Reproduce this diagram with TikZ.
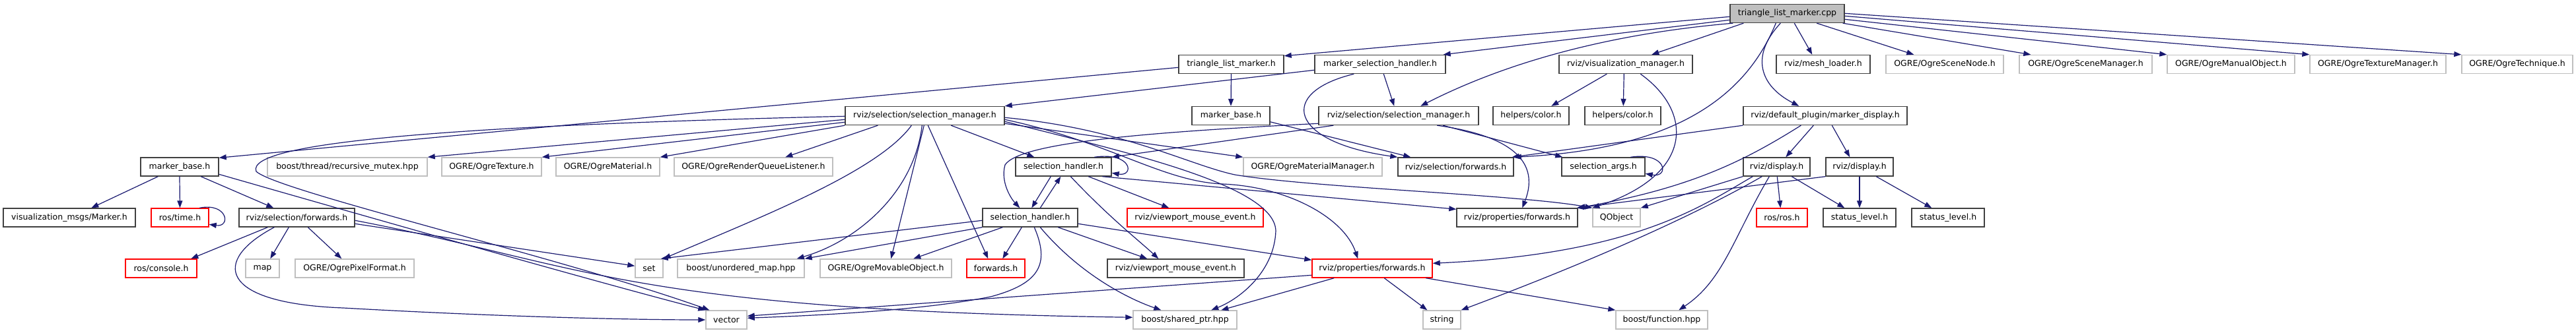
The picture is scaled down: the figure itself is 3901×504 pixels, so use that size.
\documentclass[tikz,border=0pt]{standalone}
\usepackage{fontspec}
\usetikzlibrary{arrows.meta}
\newfontfamily\dvs{DejaVu Sans}
\definecolor{edgecol}{HTML}{191970}
\definecolor{bordblack}{HTML}{404040}
\definecolor{bordgray}{HTML}{BFBFBF}
\definecolor{bordred}{HTML}{FF0000}
\definecolor{rootfill}{HTML}{BFBFBF}
\tikzset{
  nbox/.style={rectangle, minimum height=28pt, inner sep=0pt, line width=1.4pt,
    font={\dvs\fontsize{12.5}{14}\selectfont}, text=black},
  blk/.style={nbox, draw=bordblack},
  gry/.style={nbox, draw=bordgray},
  rbox/.style={nbox, draw=bordred},
  rootbox/.style={nbox, draw=bordblack, fill=rootfill},
  conn/.style={draw=edgecol, line width=1.2pt, -{Triangle[length=11pt,width=8pt]}}
}
\begin{document}
\begin{tikzpicture}[x=1pt,y=-1pt]
\useasboundingbox (0,0) rectangle (3901,504);
\fill[white] (0,0) rectangle (3901,504);
% row 0
\node[rootbox, minimum width=173pt] (cpp) at (2706.5,20.5) {triangle\_list\_marker.cpp};
% row 1
\node[blk, minimum width=159pt] (tlmh) at (1864.5,97.5) {triangle\_list\_marker.h};
\node[blk, minimum width=198pt] (msh) at (2090,97.5) {marker\_selection\_handler.h};
\node[blk, minimum width=202pt] (vm) at (2462,97.5) {rviz/visualization\_manager.h};
\node[blk, minimum width=142pt] (ml) at (2761,97.5) {rviz/mesh\_loader.h};
\node[gry, minimum width=178pt] (osn) at (2945,97.5) {OGRE/OgreSceneNode.h};
\node[gry, minimum width=201pt] (osm) at (3158.5,97.5) {OGRE/OgreSceneManager.h};
\node[gry, minimum width=193pt] (omo) at (3378.5,97.5) {OGRE/OgreManualObject.h};
\node[gry, minimum width=206pt] (otm) at (3601,97.5) {OGRE/OgreTextureManager.h};
\node[gry, minimum width=168pt] (ote) at (3812,97.5) {OGRE/OgreTechnique.h};
% row 2
\node[blk, minimum width=241pt] (smL) at (1400.5,175.5) {rviz/selection/selection\_manager.h};
\node[blk, minimum width=118pt] (mb2) at (1864,175.5) {marker\_base.h};
\node[blk, minimum width=242pt] (smR) at (2118,175.5) {rviz/selection/selection\_manager.h};
\node[blk, minimum width=115pt] (hc1) at (2318.5,175.5) {helpers/color.h};
\node[blk, minimum width=115pt] (hc2) at (2457.5,175.5) {helpers/color.h};
\node[blk, minimum width=248pt] (md) at (2764,175.5) {rviz/default\_plugin/marker\_display.h};
% row 3
\node[blk, minimum width=118pt] (mb1) at (272,253) {marker\_base.h};
\node[gry, minimum width=242pt] (rmx) at (526,253) {boost/thread/recursive\_mutex.hpp};
\node[gry, minimum width=151pt] (otex) at (744.5,253) {OGRE/OgreTexture.h};
\node[gry, minimum width=157pt] (omat) at (920.5,253) {OGRE/OgreMaterial.h};
\node[gry, minimum width=240pt] (orql) at (1141,253) {OGRE/OgreRenderQueueListener.h};
\node[blk, minimum width=145pt] (sh1) at (1610.5,253) {selection\_handler.h};
\node[gry, minimum width=210pt] (omm) at (1988,253) {OGRE/OgreMaterialManager.h};
\node[blk, minimum width=175pt] (sf2) at (2204.5,253) {rviz/selection/forwards.h};
\node[blk, minimum width=126pt] (sa) at (2428,253) {selection\_args.h};
\node[blk, minimum width=101pt] (d1) at (2690.5,253) {rviz/display.h};
\node[blk, minimum width=102pt] (d2) at (2816,253) {rviz/display.h};
% row 4
\node[blk, minimum width=200pt] (vmm) at (105,330) {visualization\_msgs/Marker.h};
\node[rbox, minimum width=87pt] (rt) at (272.5,330) {ros/time.h};
\node[blk, minimum width=175pt] (sf1) at (449.5,330) {rviz/selection/forwards.h};
\node[blk, minimum width=144pt] (sh2) at (1560,330) {selection\_handler.h};
\node[rbox, minimum width=206pt] (vme1) at (1810,330) {rviz/viewport\_mouse\_event.h};
\node[blk, minimum width=183pt] (pf1) at (2297.5,330) {rviz/properties/forwards.h};
\node[gry, minimum width=72pt] (qo) at (2448,330) {QObject};
\node[rbox, minimum width=77pt] (rr) at (2698.5,330) {ros/ros.h};
\node[blk, minimum width=110pt] (sl1) at (2816,330) {status\_level.h};
\node[blk, minimum width=110pt] (sl2) at (2950,330) {status\_level.h};
% row 5
\node[rbox, minimum width=108pt] (rc) at (244,407) {ros/console.h};
\node[gry, minimum width=51pt] (map) at (397.5,407) {map};
\node[gry, minimum width=180pt] (opf) at (537,407) {OGRE/OgrePixelFormat.h};
\node[gry, minimum width=42pt] (set) at (983,407) {set};
\node[gry, minimum width=192pt] (um) at (1122,407) {boost/unordered\_map.hpp};
\node[gry, minimum width=199pt] (omov) at (1341.5,407) {OGRE/OgreMovableObject.h};
\node[rbox, minimum width=88pt] (fw) at (1508,407) {forwards.h};
\node[blk, minimum width=207pt] (vme2) at (1780.5,407) {rviz/viewport\_mouse\_event.h};
\node[rbox, minimum width=182pt] (pf2) at (2078,407) {rviz/properties/forwards.h};
% row 6
\node[gry, minimum width=62pt] (vec) at (1100,485) {vector};
\node[gry, minimum width=157pt] (sp) at (1794.5,485) {boost/shared\_ptr.hpp};
\node[gry, minimum width=57pt] (str) at (2183.5,485) {string};
\node[gry, minimum width=139pt] (bf) at (2516.5,485) {boost/function.hpp};

% ---- edges from the root
\draw[conn] ([yshift=-19.5pt]cpp.north west) -- ([yshift=-2pt]tlmh.north east);
\draw[conn] ([yshift=-24.5pt]cpp.north west) -- ([xshift=-4pt]msh.north east);
\draw[conn] ([xshift=5pt]cpp.south west) .. controls (2450,50) and (2290,90) .. ([xshift=155pt]smR.north west);
\draw[conn] ([xshift=21pt]cpp.south west) -- ([xshift=141pt]vm.north west);
\draw[conn] ([xshift=70pt]cpp.south west) .. controls (2650,130) and (2560,225) .. (sf2.north east);
\draw[conn] ([xshift=77pt]cpp.south west) .. controls (2650,85) and (2665,130) .. ([xshift=85pt]md.north west);
\draw[conn] ([xshift=98pt]cpp.south west) -- ([xshift=55pt]ml.north west);
\draw[conn] ([xshift=132pt]cpp.south west) -- ([xshift=43pt]osn.north west);
\draw[conn] ([xshift=-3pt]cpp.south east) -- ([xshift=18pt]osm.north west);
\draw[conn] ([yshift=-23.5pt]cpp.north east) -- (omo.north west);
\draw[conn] ([yshift=-18.5pt]cpp.north east) -- (otm.north west);
\draw[conn] ([yshift=-14.5pt]cpp.north east) -- (ote.north west);
% ---- row 1 sources
\draw[conn] (tlmh.south) -- (mb2.north);
\draw[conn] ([yshift=-19.5pt]tlmh.north west) -- ([yshift=-1pt]mb1.north east);
\draw[conn] ([yshift=-23.5pt]msh.north west) -- (smL.north east);
\draw[conn] ([xshift=105pt]msh.south west) -- ([xshift=115pt]smR.north west);
\draw[conn] ([xshift=60pt]msh.south west) .. controls (1935,140) and (1950,215) .. (sf2.north west);
\draw[conn] ([xshift=73pt]vm.south west) -- ([xshift=89pt]hc1.north west);
\draw[conn] ([xshift=99pt]vm.south west) -- ([xshift=59pt]hc2.north west);
\draw[conn] ([xshift=124pt]vm.south west) .. controls (2565,170) and (2565,265) .. (qo.north west);
% ---- mb2
\draw[conn] ([yshift=-24pt]mb2.north east) -- ([xshift=20pt]sf2.north west);
% ---- smR
\draw[conn] ([xshift=23pt]smR.south west) -- (sh1.north east);
\draw[conn] ([yshift=-26.5pt]smR.north west) .. controls (1750,200) and (1545,215) .. (1522,250) .. controls (1515,275) and (1530,300) .. ([xshift=57pt]sh2.north west);
\draw[conn] ([xshift=180pt]smR.south west) .. controls (2320,210) and (2325,265) .. ([xshift=100pt]pf1.north west);
\draw[conn] ([xshift=189pt]smR.south west) -- ([xshift=2pt]sa.north west);
% ---- md
\draw[conn] (md.south west) -- ([xshift=-3pt]sf2.north east);
\draw[conn] ([xshift=88pt]md.south west) .. controls (2640,245) and (2560,285) .. (pf1.north east);
\draw[conn] ([xshift=107pt]md.south west) -- ([xshift=65pt]d1.north west);
\draw[conn] ([xshift=135pt]md.south west) -- ([xshift=37pt]d2.north west);
% ---- displays
\draw[conn] ([xshift=52pt]d1.south west) -- ([xshift=37pt]rr.north west);
\draw[conn] ([xshift=74pt]d1.south west) -- ([xshift=33pt]sl1.north west);
\draw[conn] (d1.south west) -- (qo.north east);
\draw[conn] ([xshift=15pt]d1.south west) .. controls (2580,310) and (2480,385) .. ([yshift=-7pt]pf2.north east);
\draw[conn] ([xshift=29pt]d1.south west) .. controls (2560,330) and (2400,400) .. (str.north east);
\draw[conn] ([xshift=40pt]d1.south west) .. controls (2625,360) and (2610,425) .. ([xshift=96pt]bf.north west);
\draw[conn] (d2.south) -- (sl1.north);
\draw[conn] ([xshift=77pt]d2.south west) -- ([xshift=31pt]sl2.north west);
\draw[conn] (d2.south west) -- ([xshift=-2pt]pf1.north east);
% ---- selection_args self loop
\draw[conn] ([xshift=105pt]sa.north west) .. controls (2525,230) and (2528,270) .. ([yshift=-25pt]sa.north east);
% ---- marker_base (left)
\draw[conn] ([xshift=27pt]mb1.south west) -- ([xshift=134pt]vmm.north west);
\draw[conn] (mb1.south) -- (rt.north);
\draw[conn] ([xshift=92pt]mb1.south west) -- ([xshift=53pt]sf1.north west);
\draw[conn] ([yshift=-26pt]mb1.north east) .. controls (700,370) and (950,440) .. (vec.north west);
% ---- ros/time self loop
\draw[conn] ([xshift=74pt]rt.north west) .. controls (345,307) and (350,345) .. ([yshift=-25pt]rt.north east);
% ---- rviz/selection/forwards.h (left)
\draw[conn] ([xshift=44pt]sf1.south west) -- ([xshift=100pt]rc.north west);
\draw[conn] ([xshift=76pt]sf1.south west) -- ([xshift=38pt]map.north west);
\draw[conn] ([xshift=105pt]sf1.south west) -- ([xshift=71pt]opf.north west);
\draw[conn] ([yshift=-24pt]sf1.north east) -- ([yshift=-11pt]set.north west);
\draw[conn] ([yshift=-19pt]sf1.north east) .. controls (880,400) and (950,470) .. ([yshift=-11pt]sp.north west);
\draw[conn] ([xshift=54pt]sf1.south west) .. controls (320,395) and (330,460) .. (520,467) .. controls (750,480) and (950,485) .. (vec.west);
% ---- selection_manager (left)
\draw[conn] ([yshift=-15.5pt]smL.north west) .. controls (700,190) and (370,215) .. (388,260) .. controls (420,290) and (850,390) .. ([xshift=6pt]vec.north west);
\draw[conn] ([yshift=-20.5pt]smL.north west) -- (rmx.north east);
\draw[conn] ([yshift=-24.5pt]smL.north west) -- (otex.north east);
\draw[conn] (smL.south west) -- (omat.north east);
\draw[conn] ([xshift=50pt]smL.south west) -- ([xshift=169pt]orql.north west);
\draw[conn] ([xshift=101pt]smL.south west) .. controls (1330,260) and (1150,330) .. (set.north east);
\draw[conn] ([xshift=117pt]smL.south west) .. controls (1385,290) and (1300,365) .. ([xshift=-12pt]um.north east);
\draw[conn] ([xshift=120pt]smL.south west) -- ([xshift=108pt]omov.north west);
\draw[conn] ([xshift=126pt]smL.south west) -- ([xshift=33pt]fw.north west);
\draw[conn] ([xshift=161pt]smL.south west) -- ([xshift=29pt]sh1.north west);
\draw[conn] ([yshift=-26.5pt]smL.north east) -- (omm.north west);
\draw[conn] ([yshift=-23.5pt]smL.north east) .. controls (1700,230) and (1930,280) .. (1932,350) .. controls (1930,410) and (1880,452) .. ([xshift=119pt]sp.north west);
\draw[conn] ([yshift=-20.5pt]smL.north east) .. controls (1680,215) and (1760,275) .. (1851,279) .. controls (1950,283) and (2035,330) .. ([xshift=70pt]pf2.north west);
\draw[conn] ([yshift=-17.5pt]smL.north east) .. controls (1700,195) and (1800,250) .. (1870,265) .. controls (1990,285) and (2300,295) .. (qo.north west);
% ---- selection_handler (upper)
\draw[conn] ([xshift=120pt]sh1.north west) .. controls (1715,230) and (1718,268) .. ([yshift=-24pt]sh1.north east);
\draw[conn] ([xshift=132pt]sh1.south west) -- ([yshift=-2pt]pf1.north west);
\draw[conn] ([xshift=54pt]sh1.south west) -- ([xshift=75pt]sh2.north west);
\draw[conn] ([xshift=111pt]sh1.south west) -- ([xshift=64pt]vme1.north west);
\draw[conn] ([xshift=84pt]sh1.south west) .. controls (1680,330) and (1725,365) .. ([xshift=78pt]vme2.north west);
% ---- selection_handler (lower)
\draw[conn] ([xshift=88pt]sh2.north west) -- ([xshift=69pt]sh1.south west);
\draw[conn] ([yshift=-19pt]sh2.north west) -- ([xshift=-4pt]set.north east);
\draw[conn] (sh2.south west) -- (um.north east);
\draw[conn] ([xshift=31pt]sh2.south west) -- ([xshift=142pt]omov.north west);
\draw[conn] ([xshift=60pt]sh2.south west) -- ([xshift=55pt]fw.north west);
\draw[conn] ([xshift=79pt]sh2.south west) .. controls (1590,400) and (1575,430) .. (1500,450) .. controls (1400,470) and (1250,478) .. ([yshift=-12pt]vec.north east);
\draw[conn] ([xshift=88pt]sh2.south west) .. controls (1630,410) and (1700,450) .. ([xshift=43pt]sp.north west);
\draw[conn] ([xshift=115pt]sh2.south west) -- ([xshift=61pt]vme2.north west);
\draw[conn] ([yshift=-24pt]sh2.north east) -- ([yshift=-2pt]pf2.north west);
% ---- rviz/properties/forwards.h (red)
\draw[conn] ([yshift=-25pt]pf2.north west) -- ([yshift=-9pt]vec.north east);
\draw[conn] ([xshift=34pt]pf2.south west) -- ([xshift=134pt]sp.north west);
\draw[conn] ([xshift=110pt]pf2.south west) -- ([xshift=7pt]str.north west);
\draw[conn] ([xshift=173pt]pf2.south west) -- (bf.north west);
\end{tikzpicture}
\end{document}
